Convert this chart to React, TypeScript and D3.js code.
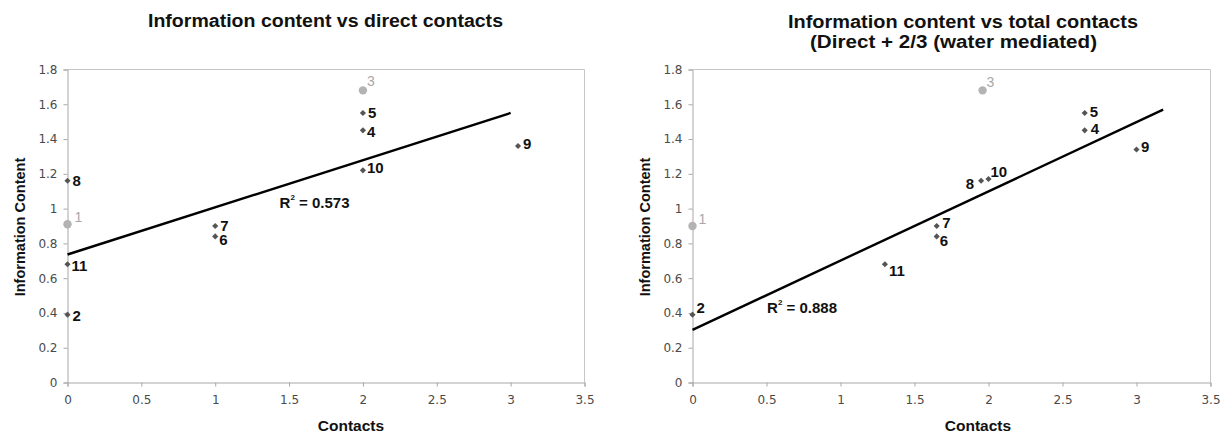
import React, { useEffect, useRef } from 'react';
import * as d3 from 'd3';

// point ids (same order in both panels)
const pointIds = ['1', '2', '3', '4', '5', '6', '7', '8', '9', '10', '11'];
// grey points that were left out of the fit
const outlierIds = ['1', '3'];

// left panel: direct contacts
const directContacts = [0, 0, 2, 2, 2, 1, 1, 0, 3.05, 2, 0];
const directInfo = [0.91, 0.39, 1.68, 1.45, 1.55, 0.84, 0.9, 1.16, 1.36, 1.22, 0.68];
const directTrendX = [0, 3];
const directTrendY = [0.736, 1.55];
const directR2 = '0.573';

// right panel: direct + 2/3 water mediated
const totalContacts = [0, 0, 1.96, 2.65, 2.65, 1.65, 1.65, 1.95, 3.0, 2.0, 1.3];
const totalInfo = [0.9, 0.39, 1.68, 1.45, 1.55, 0.84, 0.9, 1.16, 1.34, 1.17, 0.68];
const totalTrendX = [0, 3.18];
const totalTrendY = [0.303, 1.569];
const totalR2 = '0.888';

// ticks
const xTicks = [0, 0.5, 1, 1.5, 2, 2.5, 3, 3.5];
const xTickLabels = ['0', '0.5', '1', '1.5', '2', '2.5', '3', '3.5'];
const yTicks = [0, 0.2, 0.4, 0.6, 0.8, 1, 1.2, 1.4, 1.6, 1.8];
const yTickLabels = ['0', '0.2', '0.4', '0.6', '0.8', '1', '1.2', '1.4', '1.6', '1.8'];

// label placement (pixels, relative to point) -- layout only
const directLabelPos = {
  '1': [7, -2, 'start'], '2': [5, 6, 'start'], '3': [4, -4, 'start'], '4': [4, 7, 'start'],
  '5': [5, 5, 'start'], '6': [4, 9, 'start'], '7': [5, 4.5, 'start'], '8': [5, 5.5, 'start'],
  '9': [5, 3, 'start'], '10': [4, 3, 'start'], '11': [4, 6.5, 'start'],
};
const totalLabelPos = {
  '1': [6, -2, 'start'], '2': [4, -2, 'start'], '3': [4, -3.5, 'start'], '4': [6, 3.5, 'start'],
  '5': [5, 4.5, 'start'], '6': [3, 9.5, 'start'], '7': [5.5, 1.5, 'start'], '8': [-7, 8, 'end'],
  '9': [4.5, 3, 'start'], '10': [2, -2, 'start'], '11': [4, 12, 'start'],
};

const SANS = "'Liberation Sans', Arial, Helvetica, sans-serif";
const TICKFONT = "'DejaVu Sans', Verdana, sans-serif";

function drawPanel(svg, cfg) {
  const x = d3.scaleLinear().domain([0, 3.5]).range([cfg.left, cfg.right]);
  const y = d3.scaleLinear().domain([0, 1.8]).range([cfg.bottom, cfg.top]);
  const g = svg.append('g');

  // plot frame (top + right)
  g.append('path')
    .attr('d', `M${cfg.left},${cfg.top}H${cfg.right}V${cfg.bottom}`)
    .attr('fill', 'none')
    .attr('stroke', '#c6c6c6');

  const yAxis = d3.axisLeft(y).tickValues(yTicks).tickSize(4).tickPadding(6)
    .tickFormat((d, i) => yTickLabels[i]);
  const xAxis = d3.axisBottom(x).tickValues(xTicks).tickSize(4).tickPadding(9)
    .tickFormat((d, i) => xTickLabels[i]);

  const gy = g.append('g').attr('transform', `translate(${cfg.left},0)`).call(yAxis);
  const gx = g.append('g').attr('transform', `translate(0,${cfg.bottom})`).call(xAxis);
  [gx, gy].forEach(a => {
    a.select('.domain').attr('stroke', '#a8a8a8');
    a.selectAll('.tick line').attr('stroke', '#a8a8a8');
    a.selectAll('.tick text')
      .attr('font-family', TICKFONT)
      .attr('font-size', 12)
      .attr('fill', '#4a4a4a');
  });

  // trend line
  g.append('line')
    .attr('x1', x(cfg.trendX[0])).attr('y1', y(cfg.trendY[0]))
    .attr('x2', x(cfg.trendX[1])).attr('y2', y(cfg.trendY[1]))
    .attr('stroke', '#000').attr('stroke-width', 2.4);

  const pts = pointIds.map((id, i) => ({ id, cx: cfg.xs[i], cy: cfg.ys[i], out: outlierIds.includes(id) }));

  // markers
  g.selectAll('circle.out').data(pts.filter(d => d.out)).enter()
    .append('circle')
    .attr('cx', d => x(d.cx)).attr('cy', d => y(d.cy)).attr('r', 4.2)
    .attr('fill', '#b3b3b3');
  const diamond = d3.symbol().type(d3.symbolDiamond2).size(24);
  g.selectAll('path.pt').data(pts.filter(d => !d.out)).enter()
    .append('path')
    .attr('d', diamond)
    .attr('transform', d => `translate(${x(d.cx)},${y(d.cy)})`)
    .attr('fill', '#555');

  // labels
  g.selectAll('text.lbl').data(pts).enter()
    .append('text')
    .attr('x', d => x(d.cx) + cfg.labelPos[d.id][0])
    .attr('y', d => y(d.cy) + cfg.labelPos[d.id][1])
    .attr('text-anchor', d => cfg.labelPos[d.id][2])
    .attr('font-family', SANS)
    .attr('font-size', d => (d.out ? 14 : 15))
    .attr('font-weight', d => (d.out ? 'normal' : 'bold'))
    .attr('fill', d => (d.out ? '#a8a8a8' : '#111'))
    .text(d => d.id);

  // R^2
  const r2 = g.append('text')
    .attr('x', x(cfg.r2At[0])).attr('y', y(cfg.r2At[1]))
    .attr('font-family', SANS).attr('font-size', 15).attr('font-weight', 'bold').attr('fill', '#111');
  r2.append('tspan').text('R');
  r2.append('tspan').attr('font-size', 8).attr('dy', -8).text('2');
  r2.append('tspan').attr('dy', 8).text(` = ${cfg.r2}`);

  // titles
  cfg.title.forEach((t, i) => {
    svg.append('text')
      .attr('x', cfg.titleX[i]).attr('y', cfg.titleY[i])
      .attr('text-anchor', 'middle')
      .attr('font-family', SANS).attr('font-size', 17.5).attr('font-weight', 'bold').attr('fill', '#111')
      .attr('textLength', cfg.titleW[i]).attr('lengthAdjust', 'spacingAndGlyphs')
      .text(t);
  });

  svg.append('text')
    .attr('transform', `translate(${cfg.left - 43},${(cfg.top + cfg.bottom) / 2 + 1}) rotate(-90)`)
    .attr('text-anchor', 'middle')
    .attr('font-family', SANS).attr('font-size', 14.5).attr('font-weight', 'bold').attr('fill', '#111')
    .text('Information Content');

  svg.append('text')
    .attr('x', cfg.xTitleX).attr('y', 431)
    .attr('text-anchor', 'middle')
    .attr('font-family', SANS).attr('font-size', 15.5).attr('font-weight', 'bold').attr('fill', '#111')
    .text('Contacts');
}

const App = () => {
  const ref = useRef(null);

  useEffect(() => {
    const svg = d3.select(ref.current);
    svg.selectAll('*').remove();
    svg.append('rect').attr('width', 1220).attr('height', 434).attr('fill', '#fff');

    drawPanel(svg, {
      left: 67.5, right: 584.5, top: 69.5, bottom: 382.5,
      xs: directContacts, ys: directInfo,
      trendX: directTrendX, trendY: directTrendY,
      r2: directR2, r2At: [1.436, 1.006],
      labelPos: directLabelPos,
      title: ['Information content vs direct contacts'],
      titleX: [325.5], titleY: [27], titleW: [355],
      xTitleX: 351,
    });

    drawPanel(svg, {
      left: 692.5, right: 1210.5, top: 69.5, bottom: 382.5,
      xs: totalContacts, ys: totalInfo,
      trendX: totalTrendX, trendY: totalTrendY,
      r2: totalR2, r2At: [0.504, 0.402],
      labelPos: totalLabelPos,
      title: ['Information content vs total contacts', '(Direct + 2/3 (water mediated)'],
      titleX: [963, 953.5], titleY: [27.5, 48], titleW: [350, 287],
      xTitleX: 978,
    });
  }, []);

  return (
    <svg ref={ref} width={1220} height={434}
      style={{ position: 'absolute', left: 0, top: 0, display: 'block' }} />
  );
};

export default App;
